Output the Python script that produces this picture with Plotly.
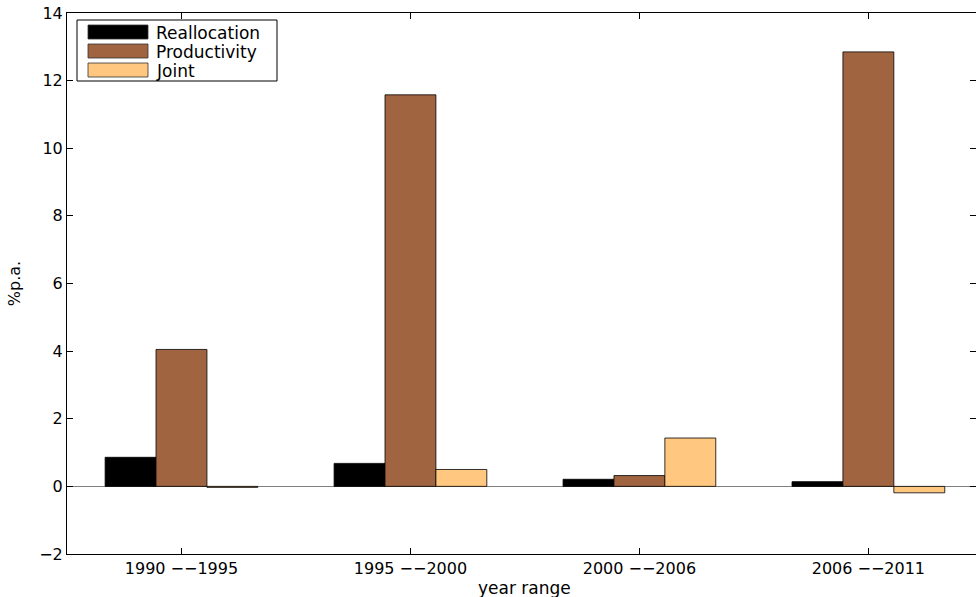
import plotly.graph_objects as go

categories = ["1990 −−1995", "1995 −−2000", "2000 −−2006", "2006 −−2011"]
reallocation = [0.86, 0.68, 0.21, 0.14]
productivity = [4.05, 11.58, 0.32, 12.85]
joint = [-0.03, 0.50, 1.43, -0.19]
y_ticks = [-2, 0, 2, 4, 6, 8, 10, 12, 14]

FONT = "DejaVu Sans"
series = [("Reallocation", reallocation, "#000000"),
          ("Productivity", productivity, "#A06440"),
          ("Joint", joint, "#FFC77F")]

# plot area in pixels (for placing the drawn legend box)
L, R, T, B = 67, 976, 13, 554
def px(xp):
    return (xp - L) / (R - L)
def py(yp):
    return (B - yp) / (B - T)

fig = go.Figure()
for name, vals, col in series:
    fig.add_trace(go.Bar(x=categories, y=vals, name=name, showlegend=False,
                         marker=dict(color=col, line=dict(color="#000000", width=0.8))))

# invisible trace to carry right-side ticks
fig.add_trace(go.Scatter(x=[categories[0]], y=[0], yaxis="y2", mode="markers",
                         marker=dict(opacity=0), showlegend=False, hoverinfo="skip"))

shapes = [dict(type="rect", xref="paper", yref="paper", x0=px(77), x1=px(277),
               y0=py(81), y1=py(20), line=dict(color="black", width=1),
               fillcolor="white", layer="above")]
annotations = []
row_tops = [25, 44, 63]
for (name, vals, col), top in zip(series, row_tops):
    shapes.append(dict(type="rect", xref="paper", yref="paper", x0=px(88), x1=px(148),
                       y0=py(top + 14), y1=py(top), line=dict(color="#333333", width=0.8),
                       fillcolor=col, layer="above"))
    annotations.append(dict(text=name, x=px(154), y=py(top + 7.5), xref="paper", yref="paper",
                            xanchor="left", yanchor="middle", showarrow=False,
                            font=dict(family=FONT, size=17, color="black")))

annotations.append(dict(text="year range", x=1.5, xref="x", y=-0.062, yref="paper",
                        xanchor="center", yanchor="middle", showarrow=False,
                        font=dict(family=FONT, size=17, color="black")))

fig.update_layout(
    width=976, height=597,
    margin=dict(l=L, r=0, t=T, b=597 - B),
    paper_bgcolor="white", plot_bgcolor="white",
    barmode="group", bargap=0.333, bargroupgap=0,
    font=dict(family=FONT, size=16, color="black"),
    showlegend=False,
    xaxis=dict(range=[-0.5, 3.47], showline=True, linecolor="black", linewidth=1,
               mirror="ticks", ticks="inside", ticklen=6, tickcolor="black",
               showgrid=False, zeroline=False, tickfont=dict(family=FONT, size=16)),
    yaxis=dict(range=[-2, 14], tickvals=y_ticks, showline=True, linecolor="black",
               linewidth=1, ticks="inside", ticklen=6, tickcolor="black",
               showgrid=False, zeroline=True, zerolinecolor="#808080", zerolinewidth=1,
               tickfont=dict(family=FONT, size=16),
               title=dict(text="%p.a.", font=dict(family=FONT, size=16), standoff=14)),
    yaxis2=dict(range=[-2, 14], tickvals=y_ticks, overlaying="y", side="right",
                showticklabels=False, ticks="inside", ticklen=6, tickcolor="black",
                showline=False, showgrid=False, zeroline=False),
    shapes=shapes,
    annotations=annotations,
)

fig.write_html("out.html")
